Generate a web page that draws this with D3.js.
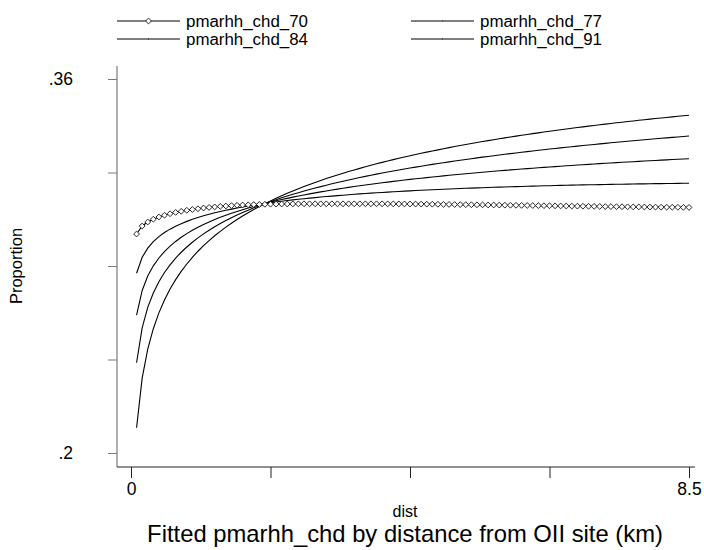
<!DOCTYPE html>
<html>
<head>
<meta charset="utf-8">
<script src="https://cdn.jsdelivr.net/npm/d3@7"></script>
<style>
  html, body { margin: 0; padding: 0; background: #fff; }
  svg { display: block; }
  text { font-family: "Liberation Sans", Arial, sans-serif; fill: #000; }
</style>
</head>
<body>
<svg id="chart" width="704" height="550"></svg>
<script>
// ---- data ----
const dist = [0.085,0.17,0.255,0.34,0.425,0.51,0.595,0.68,0.765,0.85,0.935,1.02,1.105,1.19,1.275,1.36,1.445,1.53,1.615,1.7,1.785,1.87,1.955,2.04,2.125,2.21,2.295,2.38,2.465,2.55,2.635,2.72,2.805,2.89,2.975,3.06,3.145,3.23,3.315,3.4,3.485,3.57,3.655,3.74,3.825,3.91,3.995,4.08,4.165,4.25,4.335,4.42,4.505,4.59,4.675,4.76,4.845,4.93,5.015,5.1,5.185,5.27,5.355,5.44,5.525,5.61,5.695,5.78,5.865,5.95,6.035,6.12,6.205,6.29,6.375,6.46,6.545,6.63,6.715,6.8,6.885,6.97,7.055,7.14,7.225,7.31,7.395,7.48,7.565,7.65,7.735,7.82,7.905,7.99,8.075,8.16,8.245,8.33,8.415,8.5];

const pmarhh_chd_70 = [0.29369,0.29711,0.29882,0.30002,0.30096,0.30173,0.30237,0.30293,0.30340,0.30383,
0.30417,0.30451,0.30481,0.30507,0.30528,0.30550,0.30567,0.30584,0.30597,0.30610,
0.30618,0.30627,0.30635,0.30640,0.30644,0.30648,0.30652,0.30654,0.30657,0.30659,
0.30661,0.30661,0.30661,0.30661,0.30661,0.30661,0.30661,0.30661,0.30661,0.30661,
0.30661,0.30661,0.30661,0.30661,0.30661,0.30659,0.30658,0.30657,0.30655,0.30652,
0.30650,0.30648,0.30646,0.30644,0.30640,0.30637,0.30634,0.30631,0.30628,0.30625,
0.30622,0.30618,0.30615,0.30612,0.30609,0.30606,0.30602,0.30599,0.30596,0.30593,
0.30590,0.30586,0.30583,0.30580,0.30577,0.30573,0.30570,0.30567,0.30564,0.30561,
0.30558,0.30554,0.30551,0.30548,0.30545,0.30541,0.30538,0.30535,0.30532,0.30529,
0.30527,0.30524,0.30522,0.30520,0.30518,0.30516,0.30514,0.30511,0.30509,0.30507];

const pmarhh_chd_77 = [0.27690,0.28371,0.28766,0.29044,0.29258,0.29431,0.29577,0.29702,0.29812,0.29909,
0.29997,0.30076,0.30148,0.30214,0.30275,0.30332,0.30385,0.30434,0.30481,0.30524,
0.30565,0.30604,0.30641,0.30676,0.30709,0.30741,0.30771,0.30800,0.30828,0.30854,
0.30879,0.30903,0.30927,0.30949,0.30971,0.30991,0.31011,0.31030,0.31049,0.31067,
0.31084,0.31101,0.31117,0.31132,0.31147,0.31162,0.31176,0.31189,0.31203,0.31215,
0.31228,0.31240,0.31251,0.31263,0.31274,0.31284,0.31295,0.31305,0.31314,0.31324,
0.31333,0.31342,0.31350,0.31359,0.31367,0.31375,0.31382,0.31390,0.31397,0.31404,
0.31411,0.31417,0.31424,0.31430,0.31436,0.31442,0.31448,0.31453,0.31459,0.31464,
0.31469,0.31474,0.31479,0.31483,0.31488,0.31492,0.31496,0.31500,0.31504,0.31508,
0.31512,0.31515,0.31519,0.31522,0.31525,0.31529,0.31532,0.31534,0.31537,0.31540];

const pmarhh_chd_84 = [0.25900,0.26955,0.27570,0.28006,0.28343,0.28618,0.28850,0.29051,0.29227,0.29385,
0.29527,0.29656,0.29775,0.29884,0.29986,0.30081,0.30171,0.30254,0.30333,0.30408,
0.30479,0.30547,0.30611,0.30673,0.30732,0.30788,0.30842,0.30894,0.30945,0.30993,
0.31039,0.31085,0.31128,0.31170,0.31211,0.31251,0.31289,0.31326,0.31362,0.31398,
0.31432,0.31465,0.31498,0.31529,0.31560,0.31590,0.31620,0.31648,0.31676,0.31704,
0.31731,0.31757,0.31782,0.31808,0.31832,0.31856,0.31880,0.31903,0.31925,0.31948,
0.31969,0.31991,0.32012,0.32032,0.32053,0.32073,0.32092,0.32111,0.32130,0.32149,
0.32167,0.32185,0.32202,0.32220,0.32237,0.32253,0.32270,0.32286,0.32302,0.32318,
0.32333,0.32349,0.32364,0.32379,0.32393,0.32408,0.32422,0.32436,0.32450,0.32463,
0.32477,0.32490,0.32503,0.32516,0.32529,0.32541,0.32553,0.32566,0.32578,0.32590];

const pmarhh_chd_91 = [0.23860,0.25355,0.26229,0.26848,0.27328,0.27720,0.28050,0.28336,0.28588,0.28813,
0.29017,0.29202,0.29373,0.29530,0.29677,0.29814,0.29942,0.30063,0.30178,0.30286,
0.30389,0.30487,0.30580,0.30670,0.30756,0.30838,0.30917,0.30993,0.31066,0.31137,
0.31205,0.31271,0.31335,0.31397,0.31457,0.31515,0.31572,0.31627,0.31681,0.31733,
0.31784,0.31833,0.31882,0.31929,0.31975,0.32020,0.32064,0.32107,0.32149,0.32190,
0.32230,0.32269,0.32308,0.32346,0.32383,0.32419,0.32455,0.32490,0.32524,0.32558,
0.32591,0.32624,0.32656,0.32687,0.32719,0.32749,0.32779,0.32808,0.32837,0.32866,
0.32894,0.32922,0.32949,0.32976,0.33002,0.33028,0.33054,0.33079,0.33104,0.33129,
0.33153,0.33177,0.33201,0.33224,0.33247,0.33270,0.33292,0.33314,0.33336,0.33358,
0.33379,0.33400,0.33421,0.33442,0.33462,0.33482,0.33502,0.33521,0.33541,0.33560];

// fifth series (not shown in the legend of the original)
const pmarhh_chd_98 = [0.21080,0.23202,0.24441,0.25317,0.25995,0.26548,0.27014,0.27416,0.27770,0.28086,
0.28371,0.28631,0.28869,0.29089,0.29293,0.29483,0.29662,0.29829,0.29988,0.30137,
0.30279,0.30414,0.30543,0.30666,0.30784,0.30896,0.31004,0.31108,0.31208,0.31305,
0.31397,0.31487,0.31574,0.31658,0.31739,0.31817,0.31894,0.31968,0.32040,0.32109,
0.32177,0.32244,0.32308,0.32371,0.32432,0.32492,0.32550,0.32607,0.32662,0.32716,
0.32769,0.32821,0.32871,0.32921,0.32969,0.33017,0.33063,0.33109,0.33153,0.33197,
0.33240,0.33282,0.33323,0.33364,0.33404,0.33443,0.33481,0.33519,0.33555,0.33592,
0.33627,0.33662,0.33697,0.33731,0.33764,0.33797,0.33829,0.33861,0.33892,0.33923,
0.33953,0.33983,0.34012,0.34041,0.34070,0.34098,0.34125,0.34152,0.34179,0.34206,
0.34232,0.34257,0.34283,0.34308,0.34332,0.34356,0.34380,0.34404,0.34427,0.34450];

const legendLabels = ["pmarhh_chd_70", "pmarhh_chd_77", "pmarhh_chd_84", "pmarhh_chd_91"];
const yTickValues = [0.2, 0.24, 0.28, 0.32, 0.36];
const yTickLabels = [".2", "", "", "", ".36"];
const xTickValues = [0, 2.125, 4.25, 6.375, 8.5];
const xTickLabels = ["0", "", "", "", "8.5"];
const xTitle = "dist";
const yTitle = "Proportion";
const chartTitle = "Fitted pmarhh_chd by distance from OII site (km)";

// ---- drawing ----
const svg = d3.select("#chart");
const x = d3.scaleLinear().domain([0, 8.5]).range([131, 689]);
const y = d3.scaleLinear().domain([0.2, 0.36]).range([453, 79]);
const axisX0 = 117, axisY0 = 467;
const FONT = "'Liberation Sans', Arial, sans-serif";

// y axis
const gy = svg.append("g").attr("transform", `translate(${axisX0},0)`)
  .call(d3.axisLeft(y).tickValues(yTickValues).tickSize(9).tickSizeOuter(0).tickPadding(35)
    .tickFormat((d, i) => yTickLabels[i]));
gy.select(".domain").remove();
gy.selectAll("line").attr("stroke", "#7a7a7a");
gy.selectAll("text").attr("font-size", 17.5).attr("fill", "#000").style("font-family", FONT);
svg.append("line").attr("x1", axisX0).attr("x2", axisX0).attr("y1", 66).attr("y2", axisY0)
  .attr("stroke", "#7a7a7a").attr("stroke-width", 1.2);

// x axis
const gx = svg.append("g").attr("transform", `translate(0,${axisY0})`)
  .call(d3.axisBottom(x).tickValues(xTickValues).tickSize(11).tickSizeOuter(0).tickPadding(5)
    .tickFormat((d, i) => xTickLabels[i]));
gx.select(".domain").remove();
gx.selectAll("line").attr("stroke", "#222");
gx.selectAll("text").attr("font-size", 17.5).attr("fill", "#000").style("font-family", FONT);
svg.append("line").attr("x1", axisX0).attr("x2", 695).attr("y1", axisY0).attr("y2", axisY0)
  .attr("stroke", "#222").attr("stroke-width", 1.2);

// titles
svg.append("text").attr("x", 405).attr("y", 517).attr("text-anchor", "middle")
  .attr("font-size", 16).text(xTitle);
svg.append("text").attr("transform", "translate(22,266) rotate(-90)").attr("text-anchor", "middle")
  .attr("font-size", 16.5).text(yTitle);
svg.append("text").attr("x", 405).attr("y", 542).attr("text-anchor", "middle")
  .attr("font-size", 23.8).text(chartTitle);

// lines
const line = d3.line().x((d, i) => x(dist[i])).y(d => y(d));
[pmarhh_chd_98, pmarhh_chd_91, pmarhh_chd_84, pmarhh_chd_77, pmarhh_chd_70].forEach(s => {
  svg.append("path").datum(s).attr("d", line).attr("fill", "none")
    .attr("stroke", "#000").attr("stroke-width", 1.1);
});

// diamond markers on series 70
const diamond = (cx, cy, r) => `M${cx},${cy - r}L${cx + r},${cy}L${cx},${cy + r}L${cx - r},${cy}Z`;
svg.append("g").selectAll("path").data(pmarhh_chd_70).join("path")
  .attr("d", (d, i) => diamond(x(dist[i]), y(d), 2.9))
  .attr("fill", "#fff").attr("stroke", "#111").attr("stroke-width", 0.9);

// legend
const legendItems = [
  { label: legendLabels[0], x0: 117, yy: 21, marker: true },
  { label: legendLabels[1], x0: 411, yy: 21, marker: false },
  { label: legendLabels[2], x0: 117, yy: 39, marker: false },
  { label: legendLabels[3], x0: 411, yy: 39, marker: false }
];
const lg = svg.append("g");
legendItems.forEach(it => {
  lg.append("line").attr("x1", it.x0).attr("x2", it.x0 + 63).attr("y1", it.yy).attr("y2", it.yy)
    .attr("stroke", "#000").attr("stroke-width", 1);
  if (it.marker) {
    lg.append("path").attr("d", diamond(it.x0 + 31.5, it.yy, 2.9))
      .attr("fill", "#fff").attr("stroke", "#111").attr("stroke-width", 0.9);
  } else {
    lg.append("line").attr("x1", it.x0 + 31.5).attr("x2", it.x0 + 31.5)
      .attr("y1", it.yy - 1).attr("y2", it.yy + 1).attr("stroke", "#555");
  }
  lg.append("text").attr("x", it.x0 + 69).attr("y", it.yy + 5.5)
    .attr("font-size", 16).attr("textLength", 122).attr("lengthAdjust", "spacingAndGlyphs")
    .text(it.label);
});
</script>
</body>
</html>
